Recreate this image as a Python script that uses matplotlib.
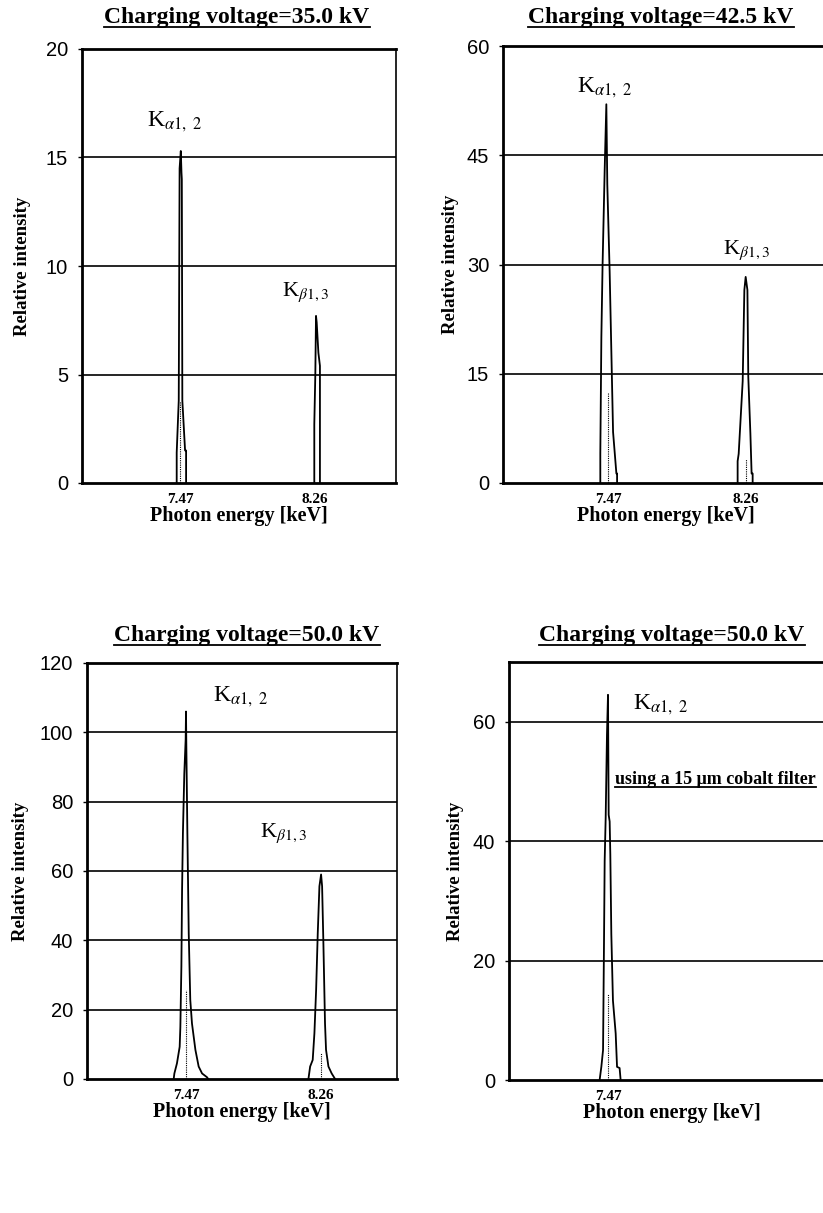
import matplotlib
matplotlib.use("Agg")
import matplotlib.pyplot as plt
from matplotlib.lines import Line2D

W, H = 823, 1213

# ---------------- data ----------------
titles = ["Charging voltage=35.0 kV", "Charging voltage=42.5 kV",
          "Charging voltage=50.0 kV", "Charging voltage=50.0 kV"]
xtick_vals = [[7.47, 8.26], [7.47, 8.26], [7.47, 8.26], [7.47]]
xtick_labels = [["7.47", "8.26"], ["7.47", "8.26"], ["7.47", "8.26"], ["7.47"]]
ytick_vals = [[0, 5, 10, 15, 20], [0, 15, 30, 45, 60],
              [0, 20, 40, 60, 80, 100, 120], [0, 20, 40, 60]]
ylims = [20, 60, 120, 70]
xlims = [(6.897, 8.734), (6.869, 8.735), (6.891, 8.704), (6.890, 8.800)]

# panel 1 (35.0 kV)
e1_ka = [7.451, 7.451, 7.463, 7.468, 7.475, 7.479, 7.481, 7.484, 7.500, 7.506, 7.506]
i1_ka = [0, 1.4, 3.8, 14.5, 15.3, 14.3, 14.0, 3.8, 1.5, 1.5, 0]
e1_kb = [8.256, 8.256, 8.262, 8.266, 8.270, 8.280, 8.289, 8.289]
i1_kb = [0, 2.7, 5.0, 7.7, 7.4, 6.0, 5.4, 0]

# panel 2 (42.5 kV)
e2_ka = [7.426, 7.426, 7.432, 7.439, 7.451, 7.4605, 7.466, 7.4795, 7.499, 7.518, 7.522, 7.522]
i2_ka = [0, 4, 20, 30, 43, 52, 41, 29, 7, 1.3, 1.3, 0]
e2_kb = [8.212, 8.212, 8.218, 8.241, 8.2505, 8.258, 8.268, 8.273, 8.285, 8.292, 8.298, 8.298]
i2_kb = [0, 3, 4, 14, 26.5, 28.3, 26.5, 14.6, 6.8, 1.3, 1.3, 0]

# panel 3 (50.0 kV)
e3_ka = [7.398, 7.402, 7.417, 7.433, 7.437, 7.443, 7.447, 7.452, 7.460, 7.468, 7.470,
         7.472, 7.478, 7.486, 7.495, 7.505, 7.525, 7.544, 7.564, 7.593, 7.600]
i3_ka = [0, 1.6, 4.5, 9.3, 15, 32.5, 54.6, 71, 88, 98, 106,
         96, 71, 42, 22.8, 16, 8.4, 3.6, 1.6, 0.5, 0]
e3_kb = [8.186, 8.196, 8.211, 8.221, 8.231, 8.2405, 8.2503, 8.260, 8.266, 8.2736,
         8.283, 8.289, 8.303, 8.322, 8.342]
i3_kb = [0, 3.6, 5.5, 13.2, 25.7, 42, 55.6, 59, 55.6, 39, 16, 8.4, 3.6, 1.6, 0]

# panel 4 (50.0 kV, 15 um cobalt filter)
e4_ka = [7.421, 7.431, 7.441, 7.447, 7.4505, 7.4564, 7.464, 7.470, 7.474, 7.4797,
         7.4836, 7.4895, 7.499, 7.515, 7.523, 7.538, 7.544]
i4_ka = [0, 2.2, 5, 24.4, 36.7, 43.9, 57.8, 64.5, 44.4, 43.3, 37.8, 24.4, 13.3, 7.8,
         2.2, 2.0, 0]

spectra = [[(e1_ka, i1_ka), (e1_kb, i1_kb)],
           [(e2_ka, i2_ka), (e2_kb, i2_kb)],
           [(e3_ka, i3_ka), (e3_kb, i3_kb)],
           [(e4_ka, i4_ka)]]
# dotted centre lines: (energy, height)
centre_lines = [[(7.468, 3.8)],
                [(7.470, 12.3), (8.260, 3.3)],
                [(7.470, 25.7), (8.260, 7.4)],
                [(7.471, 14.4)]]

# ---------------- layout (pixel boxes: left, right, top, bottom) ----------------
boxes = [(82, 396, 49, 483), (503, 829, 46, 483), (87, 397, 663, 1079), (509, 835, 662, 1080)]
title_pos = [(237, 17), (661, 17), (247, 635), (672, 635)]
ylabel_x = [31, 459, 29, 464]
ka_pos = [(147, 122), (577, 88), (213, 697), (633, 705)]
kb_pos = [(282, 292), (723, 250), (260, 833), None]

SERIF = "Liberation Serif"
SANS = "Liberation Sans"
plt.rcParams["mathtext.fontset"] = "stix"

fig = plt.figure(figsize=(W / 100, H / 100), dpi=100)


def fx(px):
    return px / W


def fy(py):
    return 1 - py / H


axes = []
title_texts = []
for k in range(4):
    l, r, t, b = boxes[k]
    ax = fig.add_axes([fx(l), fy(b), (r - l) / W, (b - t) / H])
    axes.append(ax)
    ax.set_xlim(*xlims[k])
    ax.set_ylim(0, ylims[k])
    for (e, inten) in spectra[k]:
        ax.plot(e, inten, color="black", lw=1.3, zorder=3)
    for (ec, hc) in centre_lines[k]:
        ax.plot([ec, ec], [0, hc], color="black", lw=0.8, ls=(0, (1, 1)), zorder=3)
    for yv in ytick_vals[k][1:]:
        if yv < ylims[k]:
            ax.axhline(yv, color="black", lw=1.2, zorder=1)
    ax.set_yticks(ytick_vals[k])
    ax.set_yticklabels([str(v) for v in ytick_vals[k]], fontfamily=SANS, fontsize=14.5)
    ax.set_xticks(xtick_vals[k])
    ax.set_xticklabels(xtick_labels[k], fontfamily=SERIF, fontsize=11, fontweight="bold")
    ax.tick_params(axis="y", length=3, width=1, pad=7)
    ax.tick_params(axis="x", length=0, pad=7)
    for s in ["left", "bottom", "top"]:
        ax.spines[s].set_linewidth(2.0)
    ax.spines["right"].set_linewidth(1.2)
    ax.set_xlabel("Photon energy [keV]", fontfamily=SERIF, fontsize=14.5,
                  fontweight="bold", labelpad=0)
    ax.set_ylabel("Relative intensity", fontfamily=SERIF, fontsize=13.5,
                  fontweight="bold")
    ax.yaxis.set_label_coords((ylabel_x[k] - l) / (r - l), 0.5)

    tx, ty = title_pos[k]
    tt = fig.text(fx(tx), fy(ty), titles[k], ha="center", va="center",
                  fontfamily=SERIF, fontsize=17, fontweight="bold")
    title_texts.append(tt)

    kx, ky = ka_pos[k]
    fig.text(fx(kx), fy(ky), r"K$_{\alpha 1,\ 2}$", ha="left", va="center",
             fontfamily=SERIF, fontsize=17)
    if kb_pos[k] is not None:
        kx, ky = kb_pos[k]
        fig.text(fx(kx), fy(ky), r"K$_{\beta 1,3}$", ha="left", va="center",
                 fontfamily=SERIF, fontsize=16)

filt = fig.text(fx(615), fy(780), "using a 15 \u03bcm cobalt filter", ha="left",
                va="center", fontfamily=SERIF, fontsize=13, fontweight="bold")

# underline titles and filter note
fig.canvas.draw()
renderer = fig.canvas.get_renderer()
for t, off in [(tt, 3) for tt in title_texts] + [(filt, 2)]:
    bb = t.get_window_extent(renderer)
    yline = bb.y0 - off + 4
    fig.add_artist(Line2D([bb.x0 / W, bb.x1 / W], [yline / H, yline / H],
                          transform=fig.transFigure, color="black", lw=1.3))

fig.savefig("out.png", dpi=100)
